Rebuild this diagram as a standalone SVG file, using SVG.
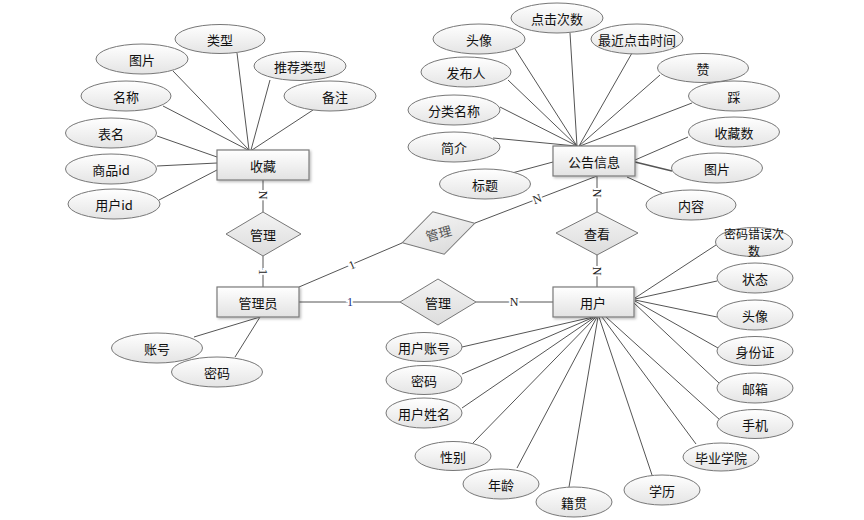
<svg xmlns="http://www.w3.org/2000/svg" width="864" height="520" viewBox="0 0 864 520">
<defs>
<linearGradient id="gE" x1="0" y1="0" x2="0" y2="1"><stop offset="0" stop-color="#ffffff"/><stop offset="1" stop-color="#e4e4e4"/></linearGradient>
<linearGradient id="gR" x1="0" y1="0" x2="0" y2="1"><stop offset="0" stop-color="#ffffff"/><stop offset="1" stop-color="#e2e2e2"/></linearGradient>
<linearGradient id="gD" x1="0" y1="0" x2="0" y2="1"><stop offset="0" stop-color="#f4f4f4"/><stop offset="1" stop-color="#dcdcdc"/></linearGradient>
<filter id="sh" x="-10%" y="-10%" width="130%" height="140%"><feDropShadow dx="1.5" dy="1.5" stdDeviation="1" flood-color="#000" flood-opacity="0.25"/></filter>
</defs>
<style>
text{font-family:"Noto Sans CJK SC","Liberation Sans",sans-serif;font-size:13px;fill:#111;text-anchor:middle;dominant-baseline:central}
.ent rect{fill:url(#gR);stroke:#7a7a7a;stroke-width:1.2;filter:url(#sh)}
.att ellipse{fill:url(#gE);stroke:#777;stroke-width:1}
.rel polygon{fill:url(#gD);stroke:#777;stroke-width:1}
#connectors line{stroke:#555;stroke-width:1}
.card{font-family:"Liberation Serif",serif;font-size:12px;fill:#222;stroke:#fff;stroke-width:4;paint-order:stroke}
.small{font-size:12px}
</style>
<rect width="864" height="520" fill="#fff"/>
<g id="connectors">
<line x1="237" y1="53" x2="249" y2="150"/>
<line x1="173" y1="71" x2="249" y2="150"/>
<line x1="270" y1="80" x2="251" y2="150"/>
<line x1="313" y1="110" x2="252" y2="150"/>
<line x1="163" y1="106" x2="248" y2="150"/>
<line x1="157" y1="136" x2="217" y2="157"/>
<line x1="157" y1="166" x2="217" y2="163"/>
<line x1="159" y1="200" x2="217" y2="170"/>
<line x1="570" y1="33" x2="577" y2="146"/>
<line x1="515" y1="49" x2="577" y2="146"/>
<line x1="632" y1="53" x2="579" y2="146"/>
<line x1="508" y1="80" x2="577" y2="146"/>
<line x1="660" y1="75" x2="579" y2="146"/>
<line x1="500" y1="107" x2="577" y2="146"/>
<line x1="692" y1="103" x2="580" y2="146"/>
<line x1="493" y1="138" x2="576" y2="146"/>
<line x1="688" y1="137" x2="635" y2="160"/>
<line x1="672" y1="171" x2="635" y2="162" style="stroke-width:1.6"/>
<line x1="512" y1="173" x2="553" y2="162"/>
<line x1="662" y1="193" x2="627" y2="177"/>
<line x1="194" y1="337" x2="260" y2="317"/>
<line x1="235" y1="357" x2="260" y2="317"/>
<line x1="716" y1="245" x2="635" y2="298"/>
<line x1="717" y1="281" x2="635" y2="299"/>
<line x1="717" y1="317" x2="635" y2="300"/>
<line x1="718" y1="348" x2="635" y2="301"/>
<line x1="719" y1="383" x2="634" y2="303"/>
<line x1="720" y1="420" x2="606" y2="317"/>
<line x1="696" y1="444" x2="602" y2="317"/>
<line x1="652" y1="475" x2="599" y2="317"/>
<line x1="569" y1="487" x2="598" y2="317"/>
<line x1="517" y1="468" x2="597" y2="317"/>
<line x1="473" y1="443" x2="596" y2="317"/>
<line x1="462" y1="408" x2="595" y2="317"/>
<line x1="462" y1="374" x2="594" y2="317"/>
<line x1="462" y1="347" x2="593" y2="317"/>
<line x1="263" y1="180" x2="263" y2="212"/>
<line x1="263" y1="256" x2="263" y2="287"/>
<line x1="597" y1="176" x2="597" y2="212"/>
<line x1="597" y1="255" x2="597" y2="287"/>
<line x1="299" y1="302" x2="400" y2="302"/>
<line x1="476" y1="302" x2="553" y2="302"/>
<line x1="299" y1="287" x2="402" y2="243"/>
<line x1="475" y1="223" x2="597" y2="176"/>
<text class="card" x="263" y="195" transform="rotate(90 263 195)">N</text>
<text class="card" x="263" y="272" transform="rotate(90 263 272)">1</text>
<text class="card" x="597" y="193" transform="rotate(90 597 193)">N</text>
<text class="card" x="597" y="271" transform="rotate(90 597 271)">N</text>
<text class="card" x="350" y="302" style="fill:#1a2f80">1</text>
<text class="card" x="514" y="302">N</text>
<text class="card" x="352" y="265" transform="rotate(-23 352 265)">1</text>
<text class="card" x="537" y="199" transform="rotate(-21 537 199)">N</text>
</g>
<g id="e-shoucang" class="ent"><rect x="217" y="150" width="92" height="30"/><text x="263" y="165">收藏</text></g>
<g id="e-gonggao" class="ent"><rect x="553" y="146" width="82" height="30"/><text x="594" y="161">公告信息</text></g>
<g id="e-guanliyuan" class="ent"><rect x="217" y="287" width="82" height="30"/><text x="258" y="302">管理员</text></g>
<g id="e-yonghu" class="ent"><rect x="553" y="287" width="81" height="30"/><text x="593" y="302">用户</text></g>
<g id="r-guanli1" class="rel"><polygon points="263,212 301,234 263,256 226,234"/><text x="263" y="234">管理</text></g>
<g id="r-chakan" class="rel"><polygon points="597,212 638,233 597,255 556,233"/><text x="597" y="233">查看</text></g>
<g id="r-guanli2" class="rel"><polygon points="438,279 476,302 438,325 400,302"/><text x="438" y="302">管理</text></g>
<g id="r-guanli3" class="rel" transform="rotate(-15 438.5 233)"><polygon points="438.5,211 476,233 438.5,255 401,233"/><text x="438.5" y="233" style="fill:#555">管理</text></g>
<g id="a-leixing" class="att"><ellipse cx="220" cy="39" rx="45" ry="14.5"/><text x="220" y="39">类型</text></g>
<g id="a-tupian1" class="att"><ellipse cx="142" cy="59" rx="46" ry="15"/><text x="142" y="59">图片</text></g>
<g id="a-tuijian" class="att"><ellipse cx="300" cy="66" rx="46" ry="14.5"/><text x="300" y="66">推荐类型</text></g>
<g id="a-mingcheng" class="att"><ellipse cx="126" cy="96" rx="45" ry="15"/><text x="126" y="96">名称</text></g>
<g id="a-beizhu" class="att"><ellipse cx="330" cy="96" rx="46" ry="15"/><text x="335" y="96">备注</text></g>
<g id="a-biaoming" class="att"><ellipse cx="111" cy="133" rx="45.5" ry="15"/><text x="111" y="133">表名</text></g>
<g id="a-shangpinid" class="att"><ellipse cx="111" cy="169" rx="45.5" ry="15"/><text x="111" y="169">商品id</text></g>
<g id="a-yonghuid" class="att"><ellipse cx="114" cy="204" rx="46" ry="15"/><text x="114" y="204">用户id</text></g>
<g id="a-dianji" class="att"><ellipse cx="557" cy="18" rx="46" ry="15"/><text x="557" y="18">点击次数</text></g>
<g id="a-touxiang1" class="att"><ellipse cx="479" cy="39" rx="46" ry="15"/><text x="479" y="39">头像</text></g>
<g id="a-zuijin" class="att"><ellipse cx="637" cy="39" rx="46" ry="15"/><text x="637" y="39">最近点击时间</text></g>
<g id="a-fabuiren" class="att"><ellipse cx="466" cy="72" rx="45" ry="15"/><text x="466" y="72">发布人</text></g>
<g id="a-zan" class="att"><ellipse cx="703" cy="68" rx="45.5" ry="14.5"/><text x="703" y="68">赞</text></g>
<g id="a-fenlei" class="att"><ellipse cx="454" cy="110" rx="46" ry="15"/><text x="454" y="110">分类名称</text></g>
<g id="a-cai" class="att"><ellipse cx="734" cy="96" rx="45.5" ry="15"/><text x="734" y="96">踩</text></g>
<g id="a-shoucangshu" class="att"><ellipse cx="734" cy="132" rx="45.5" ry="15"/><text x="734" y="132">收藏数</text></g>
<g id="a-jianjie" class="att"><ellipse cx="454" cy="147" rx="46" ry="15"/><text x="454" y="147">简介</text></g>
<g id="a-tupian2" class="att"><ellipse cx="717" cy="168" rx="45.5" ry="15"/><text x="717" y="168">图片</text></g>
<g id="a-biaoti" class="att"><ellipse cx="485" cy="184" rx="45.5" ry="15"/><text x="485" y="184">标题</text></g>
<g id="a-neirong" class="att"><ellipse cx="691" cy="205" rx="45" ry="15"/><text x="691" y="205">内容</text></g>
<g id="a-zhanghao" class="att"><ellipse cx="157" cy="348" rx="45.5" ry="15"/><text x="157" y="348">账号</text></g>
<g id="a-mima1" class="att"><ellipse cx="217" cy="372" rx="45.5" ry="15"/><text x="217" y="372">密码</text></g>
<g id="a-mimacuowu" class="att"><ellipse cx="754" cy="242" rx="38.5" ry="14.5"/><text class="small" x="754" y="233">密码错误次</text><text class="small" x="754" y="250">数</text></g>
<g id="a-zhuangtai" class="att"><ellipse cx="755" cy="278" rx="38" ry="15"/><text x="755" y="278">状态</text></g>
<g id="a-touxiang2" class="att"><ellipse cx="755" cy="315" rx="38" ry="15"/><text x="755" y="315">头像</text></g>
<g id="a-shenfenzheng" class="att"><ellipse cx="755" cy="351" rx="38" ry="14.5"/><text x="755" y="351">身份证</text></g>
<g id="a-youxiang" class="att"><ellipse cx="755" cy="388" rx="38" ry="15"/><text x="755" y="388">邮箱</text></g>
<g id="a-shouji" class="att"><ellipse cx="755" cy="424" rx="38" ry="14.5"/><text x="755" y="424">手机</text></g>
<g id="a-biye" class="att"><ellipse cx="721" cy="457" rx="38" ry="14"/><text x="721" y="457">毕业学院</text></g>
<g id="a-xueli" class="att"><ellipse cx="662" cy="490" rx="38" ry="15"/><text x="662" y="490">学历</text></g>
<g id="a-jiguan" class="att"><ellipse cx="574" cy="502" rx="38" ry="15"/><text x="574" y="502">籍贯</text></g>
<g id="a-nianling" class="att"><ellipse cx="501" cy="484" rx="38" ry="15"/><text x="501" y="484">年龄</text></g>
<g id="a-xingbie" class="att"><ellipse cx="453" cy="456" rx="38" ry="14.5"/><text x="453" y="456">性别</text></g>
<g id="a-xingming" class="att"><ellipse cx="424" cy="413" rx="38" ry="15"/><text x="424" y="413">用户姓名</text></g>
<g id="a-mima2" class="att"><ellipse cx="424" cy="380" rx="38" ry="14.5"/><text x="424" y="380">密码</text></g>
<g id="a-zhanghu" class="att"><ellipse cx="424" cy="347" rx="38" ry="14.5"/><text x="424" y="347">用户账号</text></g>
</svg>
